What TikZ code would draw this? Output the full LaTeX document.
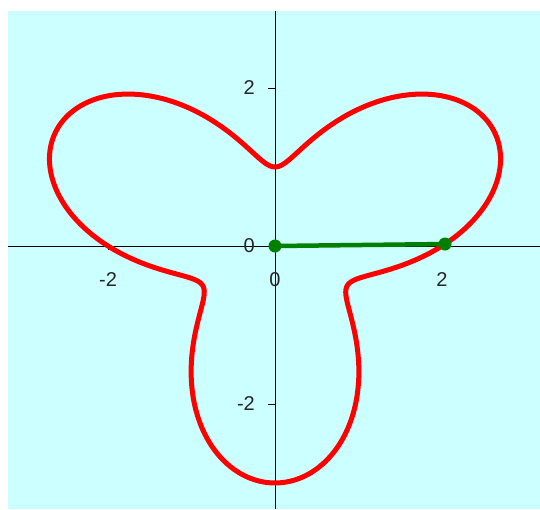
\documentclass[tikz,border=0pt]{standalone}
\usepackage{fontspec}
\setmainfont{Liberation Sans}

\begin{document}
\begin{tikzpicture}[x=83.5pt, y=79pt, every node/.style={inner sep=0pt},
  ticklbl/.style={font=\fontsize{20}{24}\selectfont, text=black!85},
  dot/.style={circle, fill=sg, minimum size=13pt}]
\definecolor{bg}{HTML}{CCFFFF}\definecolor{cv}{HTML}{FF0000}
\definecolor{sg}{HTML}{008000}
\useasboundingbox (-275pt,-263pt) rectangle (265pt,246pt);
\fill[bg] (-267pt,-263pt) rectangle (265pt,235pt);
% axes and ticks
\draw[black, line width=0.8pt] (-267pt,0) -- (265pt,0);
\draw[black, line width=0.8pt] (0,-263pt) -- (0,235pt);
\foreach \v in {-2,2} {
  \draw[black, line width=0.8pt] (\v,0) -- (\v,-4pt);
  \draw[black, line width=0.8pt] (0,\v) -- (-7pt,\v);
}
\node[ticklbl, anchor=east] (y2) at (-20pt,2) {2};
\node[ticklbl, anchor=east] (y0) at (-20pt,0) {0};
\node[ticklbl, anchor=east] (ym2) at (-20pt,-2) {-2};
\node[ticklbl, anchor=north] (xm2) at (-2,-26pt) {-2};
\node[ticklbl, anchor=north] (x0) at (0,-26pt) {0};
\node[ticklbl, anchor=north] (x2) at (2,-26pt) {2};
% rose curve r = 2 + sin(3t)
\draw[cv, line width=5pt, line join=round] plot[domain=0:360, samples=240, smooth, variable=\t]
  ({(2+sin(3*\t))*cos(\t)}, {(2+sin(3*\t))*sin(\t)});
% radius
\node[dot] (o) at (0,0) {};
\node[dot] (p) at ({(2+sin(2.1))*cos(0.7)}, {(2+sin(2.1))*sin(0.7)}) {};
\draw[sg, line width=4.5pt] (o.center) -- (p.center);
\end{tikzpicture}
\end{document}
